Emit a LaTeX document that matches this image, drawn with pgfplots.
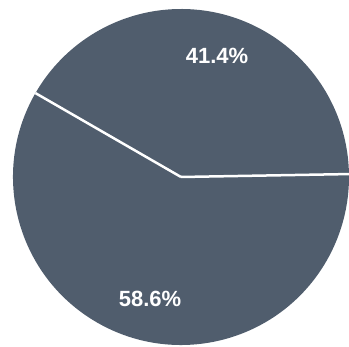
\documentclass[border=0pt]{standalone}
\usepackage{pgfplots}
\pgfplotsset{compat=1.18}
\usepackage{fontspec}
\setmainfont{Liberation Sans}
\definecolor{pieblue}{RGB}{80,93,109}
\begin{document}
\begin{tikzpicture}
% data (percent)
\def\vA{41.4}
\def\vB{58.6}
\def\startang{1}
\begin{axis}[
  width=349pt, height=347pt, scale only axis,
  xmin=0, xmax=349, ymin=0, ymax=347,
  hide axis, clip=false,
]
\pgfmathsetmacro{\endA}{\startang+\vA*3.6}
\pgfmathsetmacro{\endB}{\endA+\vB*3.6}
\fill[pieblue] (axis cs:181,170) -- ++(\startang:168pt) arc[start angle=\startang, end angle=\endA, radius=168pt] -- cycle;
\fill[pieblue] (axis cs:181,170) -- ++(\endA:168pt) arc[start angle=\endA, end angle=\endB, radius=168pt] -- cycle;
\draw[white, line width=2.5pt] (axis cs:181,170) -- ++(\startang:168pt);
\draw[white, line width=2.5pt] (axis cs:181,170) -- ++(\endA:168pt);
\node[text=white, font=\bfseries\fontsize{22}{26}\selectfont] at (axis cs:217,291) {\vA\%};
\node[text=white, font=\bfseries\fontsize{22}{26}\selectfont] at (axis cs:150,48) {\vB\%};
\end{axis}
\pgfresetboundingbox
\useasboundingbox (0,0) rectangle (349pt,347pt);
\end{tikzpicture}
\end{document}
